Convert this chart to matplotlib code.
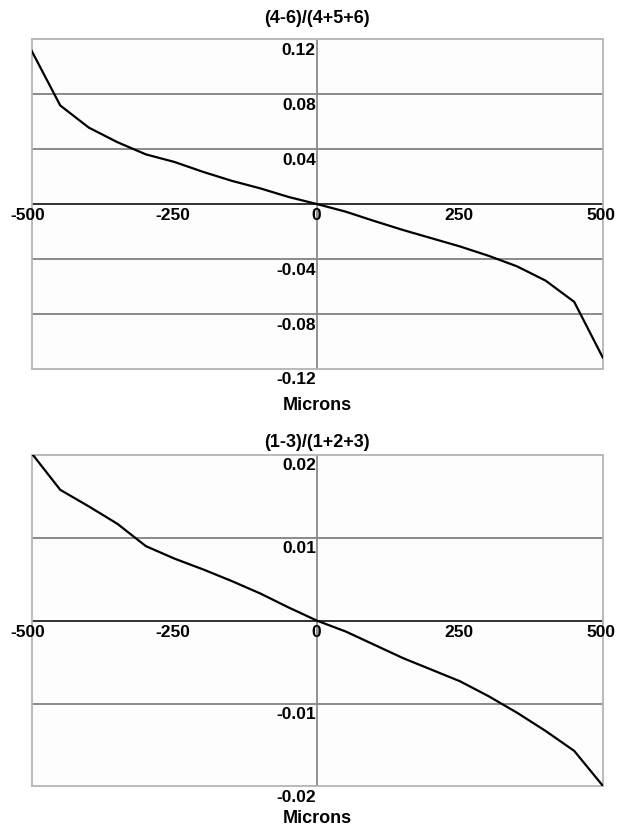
"""
plot.py — ratio signals vs. position
------------------------------------
Two stacked panels, (4-6)/(4+5+6) and (1-3)/(1+2+3), against Microns.
Saves out.png.
"""

import matplotlib
matplotlib.use("Agg")
import matplotlib.pyplot as plt
from matplotlib.transforms import offset_copy

# ─────────────────────────────────────────────────────────
# Data
# ─────────────────────────────────────────────────────────
microns = [-500, -450, -400, -350, -300, -250, -200, -150, -100, -50, 0,
           50, 100, 150, 200, 250, 300, 350, 400, 450, 500]

ratio_456 = [0.1115, 0.0718, 0.0557, 0.0451, 0.0362, 0.0307, 0.0235, 0.0170,
             0.0115, 0.0052, 0.0, -0.0055, -0.0123, -0.0188, -0.0248, -0.0308,
             -0.0376, -0.0453, -0.0557, -0.0711, -0.1116]

ratio_123 = [0.0202, 0.0158, 0.0138, 0.0117, 0.0090, 0.0075, 0.0062, 0.0048,
             0.0033, 0.0016, 0.0, -0.0013, -0.0029, -0.0045, -0.0059, -0.0073,
             -0.0091, -0.0111, -0.0133, -0.0157, -0.0199]

x_ticks = [-500, -250, 0, 250, 500]
y_ticks_456 = [0.12, 0.08, 0.04, -0.04, -0.08, -0.12]
y_ticks_123 = [0.02, 0.01, -0.01, -0.02]

FONT = "Liberation Sans"
GRID = "#8a8a8a"
FRAME = "#b4b4b4"


def draw_panel(fig, ax, y, y_ticks, title, title_pad, label_pad):
    lim = max(y_ticks)
    ax.set_xlim(-500, 500)
    ax.set_ylim(-lim, lim)
    ax.set_facecolor("#fdfdfd")
    ax.set_xticks([])
    ax.set_yticks([])
    for sp in ax.spines.values():
        sp.set_color(FRAME)
        sp.set_linewidth(1.3)

    # horizontal grid, centre cross
    for v in y_ticks:
        if abs(v) < lim:
            ax.axhline(v, color=GRID, lw=1.4, zorder=1)
    ax.axvline(0, color=GRID, lw=1.3, zorder=1)
    ax.axhline(0, color="#303030", lw=1.4, zorder=2)

    ax.plot(microns, y, color="black", lw=1.6, zorder=3)

    # x labels hang under the zero line (left-most one nudged outward)
    for t in x_ticks:
        dx = -3 if t == x_ticks[0] else -1
        below = offset_copy(ax.transData, fig=fig, x=dx, y=-3, units="points")
        ax.text(t, 0, f"{t}", transform=below, ha="center", va="top",
                fontsize=12.5, fontweight="bold", family=FONT, clip_on=False)

    # y labels sit left of the centre line, under each grid line
    ylab = offset_copy(ax.transData, fig=fig, x=-1, y=-2.5, units="points")
    for v in y_ticks:
        ax.text(0, v, f"{v:g}", transform=ylab, ha="right", va="top",
                fontsize=12.5, fontweight="bold", family=FONT, clip_on=False)

    ax.set_title(title, fontsize=13, fontweight="bold", family=FONT,
                 pad=title_pad)
    ax.set_xlabel("Microns", fontsize=13, fontweight="bold", family=FONT,
                  labelpad=label_pad)


# ─────────────────────────────────────────────────────────
# Main
# ─────────────────────────────────────────────────────────
def main():
    fig = plt.figure(figsize=(6.18, 8.32), dpi=100, facecolor="white")
    ax_top = fig.add_axes([0.0513, 0.5565, 0.924, 0.3963])
    ax_bot = fig.add_axes([0.0513, 0.0547, 0.924, 0.3984])

    draw_panel(fig, ax_top, ratio_456, y_ticks_456, "(4-6)/(4+5+6)", 12, 20)
    draw_panel(fig, ax_bot, ratio_123, y_ticks_123, "(1-3)/(1+2+3)", 5.5, 17)

    fig.savefig("out.png", dpi=100, facecolor="white")


if __name__ == "__main__":
    main()
